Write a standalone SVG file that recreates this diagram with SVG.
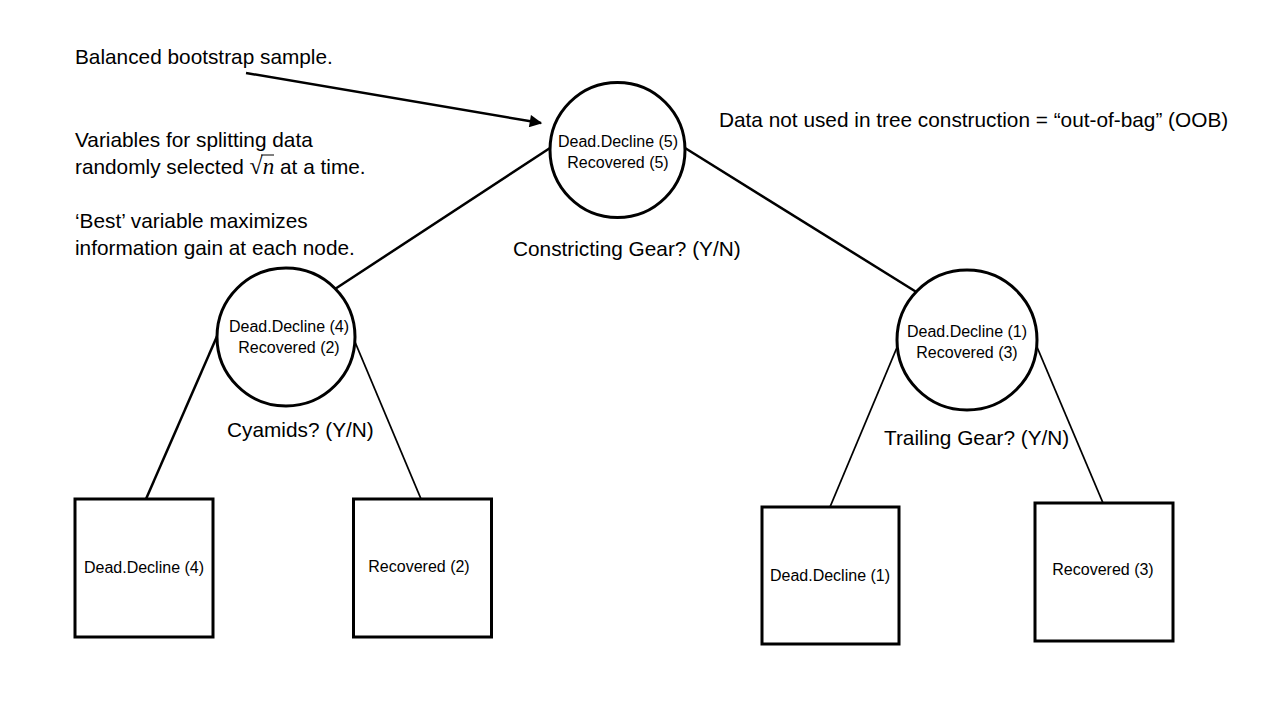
<svg xmlns="http://www.w3.org/2000/svg" width="1280" height="720" viewBox="0 0 1280 720">
<defs>
<style>
.t{font-family:"Liberation Sans",Arial,sans-serif;font-size:20.8px;fill:#000}
.n{font-family:"Liberation Sans",Arial,sans-serif;font-size:16px;fill:#000;text-anchor:middle}
.node{fill:#fff;stroke:#000;stroke-width:3}
.c{stroke:#000;stroke-width:2.5;fill:none}
.c2{stroke:#000;stroke-width:1.8;fill:none}
</style>
<marker id="ah" viewBox="0 0 10 10" refX="9" refY="5" markerWidth="5.5" markerHeight="5" orient="auto" markerUnits="strokeWidth">
<path d="M0,0 L10,5 L0,10 z" fill="#000"/>
</marker>
</defs>
<rect width="1280" height="720" fill="#fff"/>
<g id="connectors">
<line class="c" x1="246" y1="73" x2="541" y2="123" marker-end="url(#ah)"/>
<line class="c" x1="550" y1="148" x2="335" y2="289"/>
<line class="c" x1="685" y1="148" x2="918" y2="293"/>
<line class="c" x1="218" y1="334" x2="146" y2="499"/>
<line class="c2" x1="355" y1="342" x2="421" y2="499"/>
<line class="c2" x1="898" y1="345" x2="830" y2="507"/>
<line class="c2" x1="1037" y1="347" x2="1103" y2="503"/>
</g>
<g id="root">
<circle class="node" cx="617.5" cy="150" r="67.5"/>
<text class="n" x="618" y="147">Dead.Decline (5)</text>
<text class="n" x="618" y="168">Recovered (5)</text>
</g>
<g id="left">
<circle class="node" cx="286" cy="337" r="69"/>
<text class="n" x="289" y="332">Dead.Decline (4)</text>
<text class="n" x="289" y="353">Recovered (2)</text>
</g>
<g id="right">
<circle class="node" cx="967" cy="340" r="70"/>
<text class="n" x="967" y="337">Dead.Decline (1)</text>
<text class="n" x="967" y="358">Recovered (3)</text>
</g>
<g id="leaf1">
<rect class="node" x="75" y="499" width="138" height="138"/>
<text class="n" x="144" y="573">Dead.Decline (4)</text>
</g>
<g id="leaf2">
<rect class="node" x="353.5" y="499" width="138" height="138"/>
<text class="n" x="419" y="572">Recovered (2)</text>
</g>
<g id="leaf3">
<rect class="node" x="762" y="507" width="137" height="137"/>
<text class="n" x="830" y="581">Dead.Decline (1)</text>
</g>
<g id="leaf4">
<rect class="node" x="1035" y="503" width="138" height="138"/>
<text class="n" x="1103" y="575">Recovered (3)</text>
</g>
<g id="labels">
<text class="t" x="75" y="64">Balanced bootstrap sample.</text>
<text class="t" x="75" y="147">Variables for splitting data</text>
<text class="t" x="75" y="174">randomly selected <tspan font-family="Liberation Serif,serif" font-size="24">√</tspan><tspan font-family="Liberation Serif,serif" font-style="italic" font-size="23">n</tspan> at a time.</text>
<line x1="261" y1="155" x2="274" y2="155" stroke="#000" stroke-width="1"/>
<text class="t" x="75" y="228">‘Best’ variable maximizes</text>
<text class="t" x="75" y="255">information gain at each node.</text>
<text class="t" x="719" y="127">Data not used in tree construction = “out-of-bag” (OOB)</text>
<text class="t" x="513" y="256">Constricting Gear? (Y/N)</text>
<text class="t" x="227" y="437">Cyamids? (Y/N)</text>
<text class="t" x="884" y="445">Trailing Gear? (Y/N)</text>
</g>
</svg>
